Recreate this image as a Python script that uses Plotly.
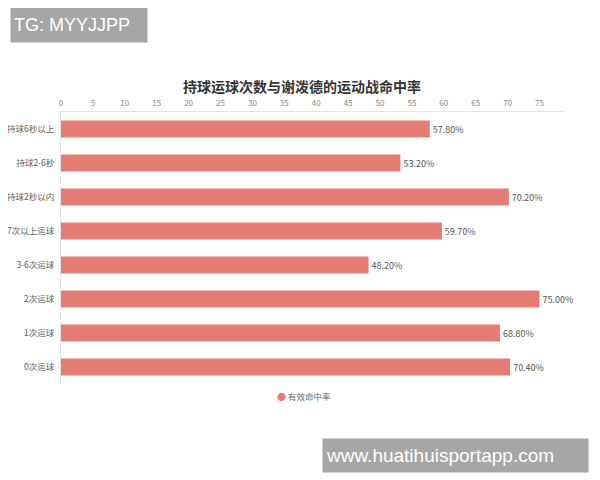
import plotly.graph_objects as go

categories = ["持球6秒以上", "持球2-6秒", "持球2秒以内", "7次以上运球", "3-6次运球", "2次运球", "1次运球", "0次运球"]
values = [57.8, 53.2, 70.2, 59.7, 48.2, 75.0, 68.8, 70.4]
series_name = "有效命中率"
title_text = "持球运球次数与谢泼德的运动战命中率"
tick_vals = list(range(0, 80, 5))

bar_color = "#e57c73"
font_family = "Noto Sans CJK SC, Noto Sans, sans-serif"

# the page body adds an 8px offset; the figure is sized to fit the window
OFF = 8
W, H = 600 - OFF, 480 - OFF

fig = go.Figure()
fig.add_trace(go.Bar(
    y=categories, x=values, orientation="h",
    marker=dict(color=bar_color, line=dict(width=0)),
    texttemplate="%{x:.2f}%", textposition="outside",
    textfont=dict(size=9, color="#555555", family=font_family),
    cliponaxis=False, showlegend=False, name=series_name,
))

fig.update_layout(
    width=W, height=H,
    margin=dict(l=61 - OFF, r=W - (565 - OFF), t=112 - OFF, b=H - (384 - OFF), autoexpand=False),
    paper_bgcolor="white", plot_bgcolor="white",
    bargap=0.5,
    font=dict(family=font_family, size=9, color="#555555"),
    title=dict(text="<b>" + title_text + "</b>", x=(302 - OFF) / W, xanchor="center",
               y=1 - (87 - OFF) / H, yanchor="middle",
               font=dict(size=14, color="#333333", family=font_family)),
    xaxis=dict(side="top", range=[0, 79], tickvals=tick_vals, showgrid=False,
               zeroline=False, showline=True, linecolor="#e3e3e3", linewidth=1,
               ticks="", tickfont=dict(size=8, color="#888888"), ticklabelstandoff=2,
               automargin=False),
    yaxis=dict(autorange="reversed", showgrid=False, zeroline=False, showline=True,
               linecolor="#e3e3e3", linewidth=1, ticks="outside", ticklen=3,
               tickcolor="#e3e3e3", tickfont=dict(size=8.5, color="#606060"),
               ticklabelstandoff=1, automargin=False),
    showlegend=False,
)

# legend drawn as a small text entry (circle symbol + series name)
fig.add_annotation(
    text="<span style='color:%s;font-size:9px'>●</span> %s" % (bar_color, series_name),
    xref="paper", yref="paper",
    x=(275 - 61) / 504, y=(384 - 396) / 272, xanchor="left", yanchor="middle",
    showarrow=False, font=dict(size=8.5, color="#666666", family=font_family),
)

fig.add_annotation(
    text="TG: MYYJJPP", xref="paper", yref="paper",
    x=(79 - 61) / 504, y=(384 - 25) / 272, xanchor="center", yanchor="middle",
    showarrow=False, width=130, height=28, borderpad=3, align="left", bgcolor="#a6a6a6",
    font=dict(size=18, color="white", family="Liberation Sans, Arial, sans-serif"),
)
fig.add_annotation(
    text="www.huatihuisportapp.com", xref="paper", yref="paper",
    x=(455.5 - 61) / 504, y=(384 - 455) / 272, xanchor="center", yanchor="middle",
    showarrow=False, width=259, height=27, borderpad=3, align="left", bgcolor="#a6a6a6",
    font=dict(size=19, color="white", family="Liberation Sans, Arial, sans-serif"),
)

fig.write_html("out.html")
